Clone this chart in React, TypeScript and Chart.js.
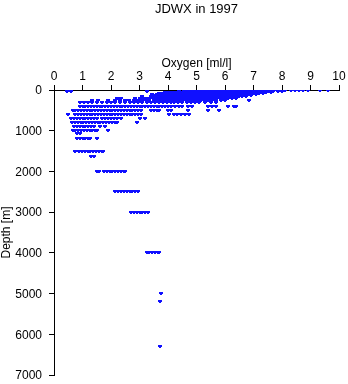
import { useEffect, useRef } from "react";
import { Chart, registerables } from "chart.js";

Chart.register(...registerables);

const TITLE = "JDWX in 1997";
const X_LABEL = "Oxygen [ml/l]";
const Y_LABEL = "Depth [m]";
const X_TICKS = [0, 1, 2, 3, 4, 5, 6, 7, 8, 9, 10];
const Y_TICKS = [0, 1000, 2000, 3000, 4000, 5000, 6000, 7000];

// Oxygen readings (ml/l) grouped by sampled depth (m)
const oxygenAt0 = [4.85, 4.98, 5.1, 5.24, 5.37, 5.5, 5.62, 5.75, 5.9, 6.02, 6.15, 6.28, 6.4, 6.55, 6.68, 6.8, 6.93, 7.05, 7.2, 7.32, 7.45, 7.6, 7.72, 7.85, 8.0, 8.12, 8.3, 8.45, 8.6, 8.75, 8.9, 9.33, 9.6];
const oxygenAt25 = [0.45, 0.6, 3.25, 4.4, 4.55, 4.7, 4.82, 4.95, 5.08, 5.2, 5.34, 5.46, 5.6, 5.72, 5.85, 5.98, 6.1, 6.24, 6.36, 6.5, 6.62, 6.75, 6.88, 7.0, 7.14, 7.26, 7.4, 7.55, 7.7, 7.85, 8.0];
const oxygenAt50 = [3.9, 4.05, 4.18, 4.3, 4.45, 4.58, 4.7, 4.84, 4.96, 5.1, 5.22, 5.35, 5.48, 5.6, 5.74, 5.86, 6.0, 6.12, 6.26, 6.38, 6.5, 6.64, 6.76, 6.9, 7.02, 7.15, 7.3, 7.45, 7.6];
const oxygenAt75 = [3.7, 3.84, 3.96, 4.1, 4.22, 4.36, 4.48, 4.6, 4.74, 4.86, 5.0, 5.12, 5.26, 5.38, 5.5, 5.64, 5.76, 5.9, 6.02, 6.16, 6.28, 6.4, 6.54, 6.66, 6.8, 6.92, 7.05, 7.2, 7.35];
const oxygenAt100 = [3.45, 3.6, 3.72, 3.85, 3.98, 4.1, 4.24, 4.36, 4.5, 4.62, 4.75, 4.88, 5.0, 5.14, 5.26, 5.4, 5.52, 5.65, 5.78, 5.9, 6.04, 6.16, 6.3, 6.42, 6.55, 6.68, 6.8, 6.95, 7.1];
const oxygenAt125 = [3.5, 3.6, 3.8, 3.9, 4.05, 4.18, 4.3, 4.44, 4.56, 4.7, 4.82, 4.95, 5.08, 5.2, 5.34, 5.46, 5.6, 5.72, 5.85, 5.98, 6.1, 6.24, 6.36, 6.5, 6.62, 6.75, 6.9];
const oxygenAt150 = [3.1, 3.4, 3.52, 3.65, 3.78, 3.9, 4.04, 4.16, 4.3, 4.42, 4.55, 4.68, 4.8, 4.94, 5.06, 5.2, 5.32, 5.45, 5.58, 5.7, 5.84, 5.96, 6.1, 6.22, 6.35, 6.48, 6.6, 6.75];
const oxygenAt200 = [2.2, 2.35, 2.85, 3.0, 3.12, 3.25, 3.38, 3.5, 3.64, 3.76, 3.9, 4.02, 4.15, 4.28, 4.4, 4.54, 4.66, 4.8, 4.92, 5.05, 5.18, 5.3, 5.44, 5.56, 5.7, 5.82, 5.95, 6.1, 6.25, 6.4];
const oxygenAt250 = [1.35, 1.55, 1.9, 2.15, 2.3, 2.5, 2.62, 2.8, 2.95, 3.1, 3.22, 3.35, 3.5, 3.62, 3.75, 3.88, 4.0, 4.14, 4.26, 4.4, 4.52, 4.65, 4.78, 4.9, 5.04, 5.16, 5.3, 5.42, 5.55, 5.7, 5.85, 6.0, 6.85];
const oxygenAt300 = [0.9, 1.05, 1.2, 1.35, 1.5, 1.7, 1.85, 2.0, 2.15, 2.3, 2.5, 2.65, 2.8, 2.95, 3.1, 3.25, 3.4, 3.55, 3.7, 3.82, 3.95, 4.1, 4.22, 4.35, 4.5, 4.65, 4.8, 4.95, 5.1, 5.3, 5.5, 5.7];
const oxygenAt400 = [0.9, 1.0, 1.1, 1.2, 1.3, 1.4, 1.5, 1.6, 1.7, 1.8, 1.9, 2.0, 2.1, 2.2, 2.3, 2.4, 2.5, 2.6, 2.7, 2.8, 2.9, 3.0, 3.1, 3.2, 3.3, 3.4, 3.5, 3.6, 3.7, 3.8, 3.9, 4.0, 4.1, 4.25, 4.4, 4.5, 4.7, 4.85, 5.4, 5.55, 5.7, 6.1, 6.3, 6.4];
const oxygenAt500 = [0.65, 0.75, 0.85, 0.95, 1.05, 1.15, 1.25, 1.35, 1.45, 1.55, 1.65, 1.75, 1.85, 1.95, 2.05, 2.15, 2.25, 2.35, 2.45, 2.55, 2.65, 2.75, 2.85, 2.95, 3.05, 3.4, 3.5, 3.6, 3.7, 4.0, 4.1, 4.7, 5.4, 5.8];
const oxygenAt600 = [0.5, 0.75, 0.85, 0.95, 1.05, 1.15, 1.25, 1.35, 1.45, 1.55, 1.65, 1.75, 1.85, 1.95, 2.05, 2.15, 2.25, 2.35, 2.45, 2.55, 2.65, 2.75, 2.85, 2.95, 3.05, 4.05, 4.2, 4.3, 4.45, 4.6, 4.75];
const oxygenAt700 = [0.6, 0.7, 0.8, 0.9, 1.0, 1.1, 1.2, 1.3, 1.4, 1.5, 1.7, 1.8, 1.9, 2.0, 2.1, 2.2, 2.35, 3.0, 3.2];
const oxygenAt800 = [0.63, 0.73, 0.83, 0.93, 1.03, 1.13, 1.23, 1.33, 1.43, 1.53, 1.63, 1.73, 1.83, 1.93, 2.03, 2.13, 2.2, 2.9];
const oxygenAt900 = [0.7, 0.8, 0.9, 1.0, 1.1, 1.2, 1.3, 1.4, 1.6, 1.8];
const oxygenAt1000 = [0.65, 0.75, 0.85, 0.95, 1.05, 1.15, 1.25, 1.35, 1.45, 1.52, 1.9];
const oxygenAt1075 = [0.8, 0.92];
const oxygenAt1200 = [0.8, 0.9, 1.0, 1.1, 1.2, 1.28, 1.5];
const oxygenAt1500 = [0.73, 0.88, 0.98, 1.08, 1.18, 1.28, 1.38, 1.48, 1.58, 1.68, 1.73];
const oxygenAt1640 = [1.3, 1.42];
const oxygenAt2000 = [1.5, 1.58, 1.75, 1.85, 1.95, 2.05, 2.15, 2.25, 2.35, 2.45, 2.5];
const oxygenAt2500 = [2.15, 2.25, 2.35, 2.45, 2.55, 2.65, 2.75, 2.85, 2.95];
const oxygenAt3000 = [2.7, 2.8, 2.9, 3.0, 3.1, 3.2, 3.3];
const oxygenAt4000 = [3.25, 3.35, 3.45, 3.55, 3.65, 3.7];
const oxygenAt5000 = [3.75];
const oxygenAt5200 = [3.72];
const oxygenAt6300 = [3.72];

const DEPTHS = [0, 25, 50, 75, 100, 125, 150, 200, 250, 300, 400, 500, 600, 700, 800, 900, 1000, 1075, 1200, 1500, 1640, 2000, 2500, 3000, 4000, 5000, 5200, 6300];
const OXYGEN_BY_DEPTH = [
  oxygenAt0, oxygenAt25, oxygenAt50, oxygenAt75, oxygenAt100, oxygenAt125, oxygenAt150,
  oxygenAt200, oxygenAt250, oxygenAt300, oxygenAt400, oxygenAt500, oxygenAt600, oxygenAt700,
  oxygenAt800, oxygenAt900, oxygenAt1000, oxygenAt1075, oxygenAt1200, oxygenAt1500, oxygenAt1640,
  oxygenAt2000, oxygenAt2500, oxygenAt3000, oxygenAt4000, oxygenAt5000, oxygenAt5200, oxygenAt6300,
];

const FONT_FAMILY = "'Liberation Sans', Arial, sans-serif";
const POINT_COLOR = "#1010ff";

function makeMarker(color: string): HTMLCanvasElement {
  const c = document.createElement("canvas");
  c.width = 4;
  c.height = 3;
  const ctx = c.getContext("2d")!;
  ctx.fillStyle = color;
  ctx.fillRect(0, 0, 4, 2);
  ctx.fillRect(1, 2, 2, 1);
  return c;
}

const crispPoints = {
  id: "crispPoints",
  beforeDatasetsDraw(chart: any) {
    chart.ctx.imageSmoothingEnabled = false;
  },
  afterDatasetsDraw(chart: any) {
    chart.ctx.imageSmoothingEnabled = true;
  },
};

export default function App() {
  const ref = useRef<HTMLCanvasElement>(null);

  useEffect(() => {
    const points = DEPTHS.flatMap((d, i) => OXYGEN_BY_DEPTH[i].map((x) => ({ x, y: d })));
    const marker = makeMarker(POINT_COLOR);
    const chart = new Chart(ref.current!, {
      type: "scatter",
      data: {
        datasets: [
          {
            data: points,
            pointStyle: marker as any,
            pointRadius: 2,
            pointHoverRadius: 2,
            backgroundColor: POINT_COLOR,
            borderColor: POINT_COLOR,
            borderWidth: 0,
          },
        ],
      },
      plugins: [crispPoints],
      options: {
        responsive: false,
        animation: false,
        devicePixelRatio: 1,
        events: [],
        layout: { padding: { top: 0, left: 0, right: 9, bottom: 9 } },
        plugins: {
          legend: { display: false },
          tooltip: { enabled: false },
          title: {
            display: true,
            text: TITLE,
            fullSize: false,
            color: "#000",
            font: { family: FONT_FAMILY, size: 13, weight: "normal", lineHeight: 1.2 },
            padding: { top: 1.5, bottom: 0 },
          },
        },
        scales: {
          x: {
            type: "linear",
            position: "top",
            min: 0,
            max: 10,
            afterBuildTicks: (s: any) => {
              s.ticks = X_TICKS.map((v) => ({ value: v }));
            },
            afterFit: (s: any) => {
              s.height = 90 - 17.1;
              s.paddingLeft = 0;
              s.paddingRight = 0;
            },
            ticks: { color: "#000", padding: 1.5, font: { family: FONT_FAMILY, size: 12 } },
            grid: { drawOnChartArea: false, tickLength: 5, color: "#000", lineWidth: 1 },
            border: { color: "#000", width: 1 },
            title: {
              display: true,
              text: X_LABEL,
              color: "#000",
              font: { family: FONT_FAMILY, size: 12, lineHeight: 1.2 },
              padding: { top: 39.5, bottom: 0 },
            },
          },
          y: {
            type: "linear",
            reverse: true,
            min: 0,
            max: 7000,
            afterBuildTicks: (s: any) => {
              s.ticks = Y_TICKS.map((v) => ({ value: v }));
            },
            afterFit: (s: any) => {
              s.width = 54;
              s.paddingTop = 0;
              s.paddingBottom = 0;
            },
            ticks: {
              color: "#000",
              padding: 7,
              labelOffset: 1,
              font: { family: FONT_FAMILY, size: 12 },
              callback: (v: any) => String(v),
            },
            grid: { drawOnChartArea: false, tickLength: 5, color: "#000", lineWidth: 1 },
            border: { color: "#000", width: 1 },
            title: {
              display: true,
              text: Y_LABEL,
              color: "#000",
              font: { family: FONT_FAMILY, size: 12, lineHeight: 1.1 },
              padding: 0,
            },
          },
        },
      },
    });
    return () => chart.destroy();
  }, []);

  return (
    <div style={{ position: "fixed", left: 0, top: 0, width: 348, height: 384, background: "#fff" }}>
      <canvas ref={ref} width={348} height={384} style={{ display: "block" }} />
    </div>
  );
}
